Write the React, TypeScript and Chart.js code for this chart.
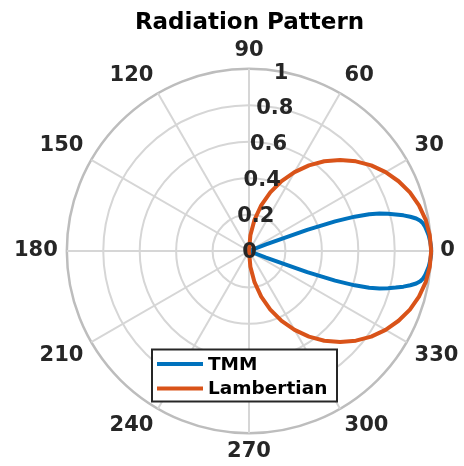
import React, { useEffect, useRef } from 'react';
import { Chart, registerables } from 'chart.js';

Chart.register(...registerables);

// ---------- data ----------
const chartTitle = 'Radiation Pattern';
const seriesNames = ['TMM', 'Lambertian'];
const seriesColors = ['#0072BD', '#D95319'];

// angular categories: one per degree, index 0 at 90°, going clockwise on screen
const angleCategories: number[] = Array.from({ length: 360 }, (_, i) => (450 - i) % 360);
const angleTickValues = [0, 30, 60, 90, 120, 150, 180, 210, 240, 270, 300, 330];

const radialTicks = [0, 0.2, 0.4, 0.6, 0.8, 1];
const radialTickLabels = ['0', '0.2', '0.4', '0.6', '0.8', '1'];
const radialTickAngle = 80;

const tmmAngles = [
  -22, -21, -20, -19, -18, -17, -16, -15, -14, -13, -12, -11, -10, -9, -8, -7, -6, -5, -4, -3, -2, -1,
  0, 1, 2, 3, 4, 5, 6, 7, 8, 9, 10, 11, 12, 13, 14, 15, 16, 17, 18, 19, 20, 21, 22,
];
const tmmValues = [
  0, 0.1, 0.34, 0.5, 0.61, 0.69, 0.745, 0.79, 0.83, 0.87, 0.905, 0.935, 0.955, 0.967, 0.975, 0.98, 0.985, 0.99, 0.993, 0.996, 0.998, 1.0,
  1.0,
  1.0, 0.998, 0.996, 0.993, 0.99, 0.985, 0.98, 0.975, 0.967, 0.955, 0.935, 0.905, 0.87, 0.83, 0.79, 0.745, 0.69, 0.61, 0.5, 0.34, 0.1, 0,
];

const lambertianAngles = [
  -90, -85, -80, -75, -70, -65, -60, -55, -50, -45, -40, -35, -30, -25, -20, -15, -10, -5,
  0, 5, 10, 15, 20, 25, 30, 35, 40, 45, 50, 55, 60, 65, 70, 75, 80, 85, 90,
];
const lambertianValues = [
  0, 0.087, 0.174, 0.259, 0.342, 0.423, 0.5, 0.574, 0.643, 0.707, 0.766, 0.819, 0.866, 0.906, 0.94, 0.966, 0.985, 0.996,
  1.0, 0.996, 0.985, 0.966, 0.94, 0.906, 0.866, 0.819, 0.766, 0.707, 0.643, 0.574, 0.5, 0.423, 0.342, 0.259, 0.174, 0.087, 0,
];

function onCategories(angles: number[], values: number[]) {
  const out: (number | null)[] = angleCategories.map(() => null);
  angles.forEach((a, k) => {
    const idx = angleCategories.indexOf(((a % 360) + 360) % 360);
    if (idx >= 0) out[idx] = values[k];
  });
  return out;
}

const FONT = '"DejaVu Sans", sans-serif';
const gridInner = '#d6d6d6';
const gridOuter = '#bdbdbd';
const labelColor = '#262626';

const overlayPlugin = {
  id: 'overlay',
  afterDatasetsDraw(chart: any) {
    const s = chart.scales.r;
    const ctx = chart.ctx as CanvasRenderingContext2D;
    const xc = s.xCenter;
    const yc = s.yCenter;
    ctx.save();

    // radial tick labels
    ctx.font = `bold 21px ${FONT}`;
    ctx.fillStyle = labelColor;
    ctx.textAlign = 'center';
    ctx.textBaseline = 'middle';
    const a = (radialTickAngle * Math.PI) / 180;
    radialTicks.forEach((v, k) => {
      const d = s.getDistanceFromCenterForValue(v);
      ctx.fillText(radialTickLabels[k], xc + d * Math.cos(a) + 0.5, yc - d * Math.sin(a) + 1.5);
    });

    // title
    ctx.font = `bold 23px ${FONT}`;
    ctx.fillStyle = '#000000';
    ctx.textAlign = 'center';
    ctx.textBaseline = 'alphabetic';
    ctx.fillText(chartTitle, xc + 0.5, 29);

    // legend
    const left = xc - 97;
    const top = yc + 98.5;
    const w = 185;
    const h = 52;
    ctx.fillStyle = '#ffffff';
    ctx.fillRect(left, top, w, h);
    ctx.lineWidth = 2;
    ctx.strokeStyle = '#262626';
    ctx.strokeRect(left, top, w, h);
    const rows = [top + 14.5, top + 39];
    ctx.font = `bold 18.5px ${FONT}`;
    ctx.textAlign = 'left';
    ctx.textBaseline = 'middle';
    seriesNames.forEach((name, k) => {
      ctx.strokeStyle = seriesColors[k];
      ctx.lineWidth = 4;
      ctx.beginPath();
      ctx.moveTo(left + 5, rows[k]);
      ctx.lineTo(left + 51, rows[k]);
      ctx.stroke();
      ctx.fillStyle = '#000000';
      ctx.fillText(name, left + 56, rows[k] + 1);
    });
    ctx.restore();
  },
};

export default function App() {
  const ref = useRef<HTMLCanvasElement>(null);
  useEffect(() => {
    if (!ref.current) return;
    Chart.defaults.font.family = FONT;
    const chart = new Chart(ref.current, {
      type: 'radar',
      data: {
        labels: angleCategories.map(String),
        datasets: [
          {
            label: seriesNames[0],
            data: onCategories(tmmAngles, tmmValues),
            borderColor: seriesColors[0],
            backgroundColor: seriesColors[0],
            borderWidth: 4,
            pointRadius: 0,
            fill: false,
            spanGaps: true,
            borderJoinStyle: 'round',
            order: 1,
          },
          {
            label: seriesNames[1],
            data: onCategories(lambertianAngles, lambertianValues),
            borderColor: seriesColors[1],
            backgroundColor: seriesColors[1],
            borderWidth: 4,
            pointRadius: 0,
            fill: false,
            spanGaps: true,
            borderJoinStyle: 'round',
            order: 0,
          },
        ] as any,
      },
      options: {
        responsive: false,
        animation: false,
        devicePixelRatio: 1,
        events: [],
        layout: { padding: { top: 36, left: 0, right: 0, bottom: 0 } },
        plugins: {
          legend: { display: false },
          tooltip: { enabled: false },
          title: { display: false },
        },
        scales: {
          r: {
            min: 0,
            max: 1,
            startAngle: 0,
            ticks: { display: false, stepSize: 0.2 },
            grid: {
              circular: true,
              color: (c: any) => (c.tick && Math.abs(c.tick.value - 1) < 1e-6 ? gridOuter : gridInner),
              lineWidth: (c: any) => (c.tick && Math.abs(c.tick.value - 1) < 1e-6 ? 2.5 : 2),
            },
            angleLines: {
              color: gridInner,
              lineWidth: (c: any) => (angleTickValues.includes(angleCategories[c.index]) ? 2 : 0),
            },
            pointLabels: {
              padding: 9,
              color: labelColor,
              font: { family: FONT, size: 21, weight: 'bold', lineHeight: 0.9 },
              callback: (label: any, index: number) =>
                angleTickValues.includes(angleCategories[index]) ? String(label) : '',
            },
          },
        } as any,
      },
      plugins: [overlayPlugin],
    });
    return () => chart.destroy();
  }, []);
  return (
    <div
      style={{
        position: 'fixed',
        left: 0,
        top: 0,
        width: 464,
        height: 466,
        overflow: 'hidden',
        background: '#ffffff',
      }}
    >
      <canvas ref={ref} width={470} height={466} style={{ display: 'block' }} />
    </div>
  );
}
